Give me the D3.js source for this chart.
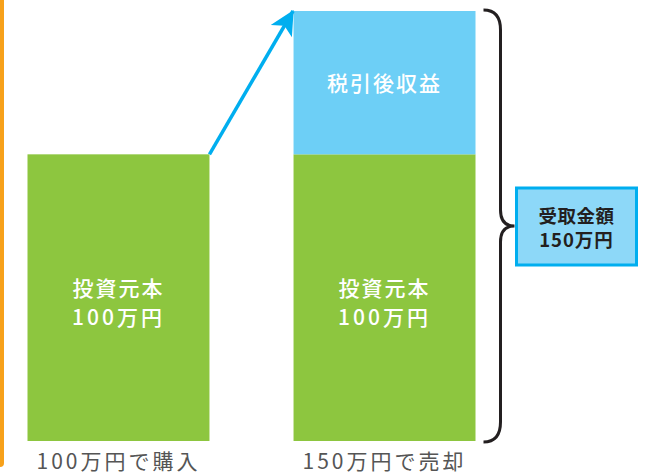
<!DOCTYPE html>
<html>
<head>
<meta charset="utf-8">
<script src="https://cdn.jsdelivr.net/npm/d3@7"></script>
<style>
  body { margin: 0; background: #fff; }
  text { font-family: "Noto Sans CJK JP", sans-serif; }
</style>
</head>
<body>
<script>
const width = 646;
const height = 475;

const categories = ["100万円で購入", "150万円で売却"];
const principal = [100, 100];
const profit = [0, 50];
const principalLabel = ["投資元本", "100万円"];
const profitLabel = "税引後収益";
const totalLabel = ["受取金額", "150万円"];

const svg = d3.select("body")
    .append("svg")
    .attr("width", width)
    .attr("height", height);

const xScale = d3.scaleBand()
    .domain(categories)
    .range([27.5, 475.5])
    .paddingInner(0.316)
    .paddingOuter(0);

const yScale = d3.scaleLinear()
    .domain([0, 150])
    .range([441, 11]);

// orange line on the left
svg.append("rect")
    .attr("x", -4)
    .attr("y", -5)
    .attr("width", 8)
    .attr("height", 472)
    .attr("rx", 4)
    .attr("fill", "#F7A11A");

const stack = categories.map((c, i) => ({ cat: c, p: principal[i], q: profit[i] }));

// principal bars
svg.selectAll("rect.principal")
    .data(stack)
    .enter()
    .append("rect")
    .attr("class", "principal")
    .attr("x", d => xScale(d.cat))
    .attr("y", d => yScale(d.p))
    .attr("width", xScale.bandwidth())
    .attr("height", d => yScale(0) - yScale(d.p))
    .attr("fill", "#8DC63F");

// profit bars
svg.selectAll("rect.profit")
    .data(stack.filter(d => d.q > 0))
    .enter()
    .append("rect")
    .attr("class", "profit")
    .attr("x", d => xScale(d.cat))
    .attr("y", d => yScale(d.p + d.q))
    .attr("width", xScale.bandwidth())
    .attr("height", d => yScale(d.p) - yScale(d.p + d.q))
    .attr("fill", "#6DCFF6");

// labels inside principal bars
stack.forEach(d => {
    const cx = xScale(d.cat) + xScale.bandwidth() / 2;
    const cy = (yScale(0) + yScale(d.p)) / 2;
    principalLabel.forEach((t, j) => {
        svg.append("text")
            .attr("x", cx)
            .attr("y", cy + (j === 0 ? -11 : 18.5))
            .attr("text-anchor", "middle")
            .attr("dominant-baseline", "central")
            .attr("fill", "#fff")
            .attr("font-size", 21)
            .attr("font-weight", 500)
            .attr("letter-spacing", j === 0 ? 2 : 3)
            .text(t);
    });
});

stack.filter(d => d.q > 0).forEach(d => {
    svg.append("text")
        .attr("x", xScale(d.cat) + xScale.bandwidth() / 2)
        .attr("y", (yScale(d.p) + yScale(d.p + d.q)) / 2 - 1)
        .attr("text-anchor", "middle")
        .attr("dominant-baseline", "central")
        .attr("fill", "#fff")
        .attr("font-size", 21)
        .attr("font-weight", 500)
        .attr("letter-spacing", 2)
        .text(profitLabel);
});

// category labels
svg.selectAll("text.cat")
    .data(categories)
    .enter()
    .append("text")
    .attr("class", "cat")
    .attr("x", d => xScale(d) + xScale.bandwidth() / 2)
    .attr("y", 459.5)
    .attr("text-anchor", "middle")
    .attr("dominant-baseline", "central")
    .attr("fill", "#555")
    .attr("font-size", 21)
    .attr("letter-spacing", 3)
    .text(d => d);

// arrow from first bar top to second bar top
const defs = svg.append("defs");
defs.append("marker")
    .attr("id", "arrow")
    .attr("viewBox", "0 0 10 10")
    .attr("refX", 9.5)
    .attr("refY", 5)
    .attr("markerWidth", 7.5)
    .attr("markerHeight", 7)
    .attr("markerUnits", "strokeWidth")
    .attr("orient", "auto")
    .append("path")
    .attr("d", "M0,0 L10,5 L0,10 L2.5,5 Z")
    .attr("fill", "#00AEEF");

const x1 = xScale(categories[0]) + xScale.bandwidth();
const y1 = yScale(principal[0]);
const x2 = xScale(categories[1]);
const y2 = yScale(principal[1] + profit[1]);
svg.append("line")
    .attr("x1", x1)
    .attr("y1", y1)
    .attr("x2", x2 - 0.5)
    .attr("y2", y2)
    .attr("stroke", "#00AEEF")
    .attr("stroke-width", 3.5)
    .attr("marker-end", "url(#arrow)");

// brace
const bTop = yScale(150) - 1;
const bBot = yScale(0) + 1;
const bMid = (bTop + bBot) / 2;
const bx0 = xScale(categories[1]) + xScale.bandwidth() + 8;
const bx = bx0 + 17;
const tip = bx + 14;
const bracePath = d3.path();
bracePath.moveTo(bx0, bTop);
bracePath.quadraticCurveTo(bx, bTop, bx, bTop + 20);
bracePath.lineTo(bx, bMid - 16);
bracePath.quadraticCurveTo(bx, bMid, tip, bMid);
bracePath.quadraticCurveTo(bx, bMid, bx, bMid + 16);
bracePath.lineTo(bx, bBot - 20);
bracePath.quadraticCurveTo(bx, bBot, bx0, bBot);
svg.append("path")
    .attr("d", bracePath.toString())
    .attr("fill", "none")
    .attr("stroke", "#231F20")
    .attr("stroke-width", 3);

// total box
const boxX = tip + 2;
const boxW = 120;
const boxH = 77;
svg.append("rect")
    .attr("x", boxX)
    .attr("y", bMid - boxH / 2 + 0.5)
    .attr("width", boxW)
    .attr("height", boxH)
    .attr("fill", "#8DD8F8")
    .attr("stroke", "#00AEEF")
    .attr("stroke-width", 3);

totalLabel.forEach((t, j) => {
    svg.append("text")
        .attr("x", boxX + boxW / 2)
        .attr("y", bMid + (j === 0 ? -11 : 12.5))
        .attr("text-anchor", "middle")
        .attr("dominant-baseline", "central")
        .attr("fill", "#231F20")
        .attr("font-size", 18.5)
        .attr("font-weight", 700)
        .attr("letter-spacing", j === 0 ? 0.5 : 1)
        .text(t);
});
</script>
</body>
</html>
